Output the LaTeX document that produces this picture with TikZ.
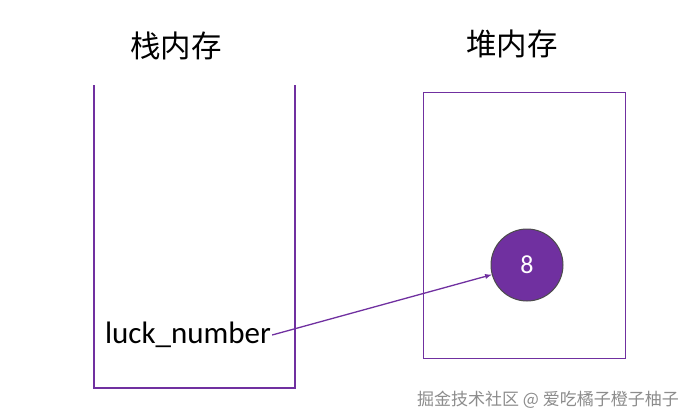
\documentclass[tikz,border=0pt]{standalone}
\usepackage{fontspec}
\setmainfont{Carlito}
\newfontfamily\cjk{Noto Sans CJK SC}
\definecolor{pur}{HTML}{7030A0}
\begin{document}
\begin{tikzpicture}[x=1pt,y=-1pt,
  boxline/.style={draw=pur,line width=1.2pt},
  title/.style={font=\cjk\fontsize{30.5}{34}\selectfont}]
\useasboundingbox (0,0) rectangle (696,420);
\node[title] (st) at (176,46) {栈内存};
\node[title] (ht) at (512,44) {堆内存};
\draw[boxline] (94,85) -- (94,388) -- (295,388) -- (295,85);
\node[boxline,draw,rectangle,minimum width=202pt,minimum height=266pt,anchor=north west,inner sep=0] (heap) at (423,92) {};
\node[circle,fill=pur,draw=black!70,line width=1pt,minimum size=72pt,text=white,font=\fontsize{26}{28}\selectfont] (n8) at (527,265) {8};
\node[font=\fontsize{31}{34}\selectfont,inner sep=1pt] (luck) at (188,335) {luck\_number};
\draw[draw=pur,line width=1.3pt,-latex] (luck.east) -- (n8);
\node[font=\cjk\fontsize{17}{20}\selectfont,text=black!45] (wm) at (548,400) {掘金技术社区 @ 爱吃橘子橙子柚子};
\end{tikzpicture}
\end{document}
